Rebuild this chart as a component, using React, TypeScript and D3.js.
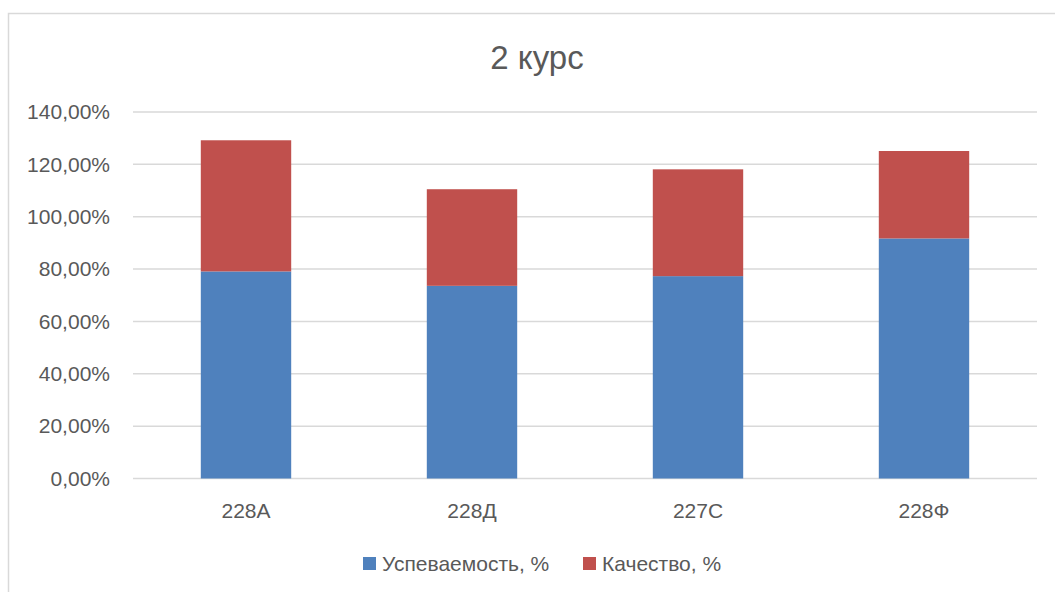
import React, { useRef, useEffect } from 'react';
import * as d3 from 'd3';

const groups = ['228А', '228Д', '227С', '228Ф'];
const uspevaemost = [79.1, 73.6, 77.3, 91.7];
const kachestvo = [50.1, 36.9, 40.8, 33.4];
const yTicks = [0, 20, 40, 60, 80, 100, 120, 140];
const seriesNames = ['Успеваемость, %', 'Качество, %'];
const seriesColors = ['#4f81bd', '#c0504d'];

const W = 1055;
const H = 592;
const FONT = '"Liberation Sans", Arial, sans-serif';
const TEXT = '#595959';

const App: React.FC = () => {
  const svgRef = useRef<SVGSVGElement>(null);

  useEffect(() => {
    if (!svgRef.current) return;
    const svg = d3.select(svgRef.current);
    svg.selectAll('*').remove();

    // plot area
    const left = 133;
    const right = 1037;
    const top = 112;
    const bottom = 478.5;

    const x = d3.scaleBand<string>()
      .domain(groups)
      .range([left, right])
      .paddingInner(0.6)
      .paddingOuter(0.3);

    const y = d3.scaleLinear().domain([0, 140]).range([bottom, top]);

    // chart border
    svg.append('rect')
      .attr('x', 8.5).attr('y', 13.5)
      .attr('width', W).attr('height', H)
      .attr('fill', 'white')
      .attr('stroke', '#d9d9d9')
      .attr('stroke-width', 1.5);

    // title
    svg.append('text')
      .attr('x', 537).attr('y', 69)
      .attr('text-anchor', 'middle')
      .style('font-family', FONT)
      .style('font-size', '33px')
      .style('fill', TEXT)
      .text('2 курс');

    // gridlines
    svg.append('g')
      .selectAll('line')
      .data(yTicks)
      .join('line')
      .attr('x1', left).attr('x2', right)
      .attr('y1', d => y(d)).attr('y2', d => y(d))
      .attr('stroke', '#d9d9d9')
      .attr('stroke-width', 1.5);

    // y labels
    svg.append('g')
      .selectAll('text')
      .data(yTicks)
      .join('text')
      .attr('x', 110)
      .attr('y', d => y(d))
      .attr('dy', '0.35em')
      .attr('text-anchor', 'end')
      .style('font-family', FONT)
      .style('font-size', '21px')
      .style('fill', TEXT)
      .text(d => d.toFixed(2).replace('.', ',') + '%');

    // stacked bars
    const rows = groups.map((g, i) => ({ group: g, a: uspevaemost[i], b: kachestvo[i] }));
    const stack = d3.stack<any>().keys(['a', 'b'])(rows);

    svg.append('g')
      .selectAll('g')
      .data(stack)
      .join('g')
      .attr('fill', (_, i) => seriesColors[i])
      .selectAll('rect')
      .data(d => d)
      .join('rect')
      .attr('x', d => x(d.data.group)!)
      .attr('width', x.bandwidth())
      .attr('y', d => y(d[1]))
      .attr('height', d => y(d[0]) - y(d[1]));

    // x labels
    svg.append('g')
      .selectAll('text')
      .data(groups)
      .join('text')
      .attr('x', d => x(d)! + x.bandwidth() / 2)
      .attr('y', 518)
      .attr('text-anchor', 'middle')
      .style('font-family', FONT)
      .style('font-size', '21px')
      .style('fill', TEXT)
      .text(d => d);

    // legend
    const legendX = [363, 583];
    seriesNames.forEach((name, i) => {
      svg.append('rect')
        .attr('x', legendX[i]).attr('y', 557)
        .attr('width', 13).attr('height', 13)
        .attr('fill', seriesColors[i]);
      svg.append('text')
        .attr('x', legendX[i] + 19).attr('y', 571)
        .style('font-family', FONT)
        .style('font-size', '21px')
        .style('fill', TEXT)
        .text(name);
    });
  }, []);

  return (
    <svg
      ref={svgRef}
      width={W}
      height={H}
      style={{ position: 'absolute', left: 0, top: 0, display: 'block' }}
    />
  );
};

export default App;
